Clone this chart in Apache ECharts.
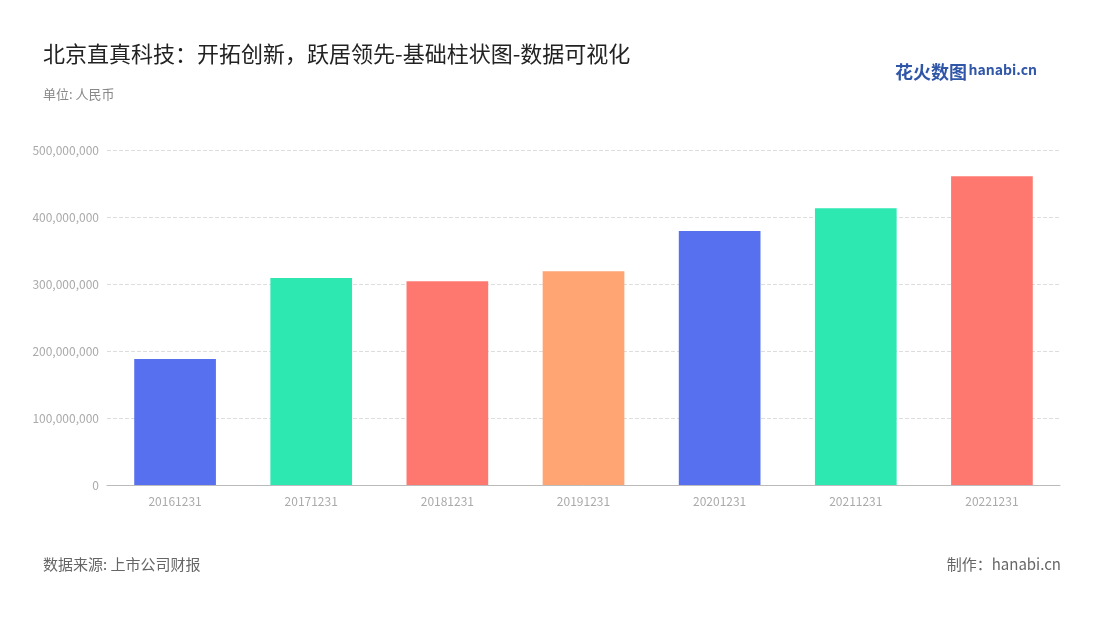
<!DOCTYPE html>
<html><head><meta charset="utf-8">
<script src="https://cdn.jsdelivr.net/npm/echarts@6/dist/echarts.min.js"></script>
<style>body{margin:0}#c{width:1100px;height:620px}</style></head>
<body><div id="c"></div>
<script>
const categories=['20161231','20171231','20181231','20191231','20201231','20211231','20221231'];
const values=[188000000,309000000,304000000,319000000,379000000,413000000,461000000];
const colors=['#5670f0','#2ee8b1','#ff7870','#ffa473','#5670f0','#2ee8b1','#ff7870'];
const chart=echarts.init(document.getElementById('c'));
const F='"Noto Sans CJK SC","Noto Sans",sans-serif';
chart.setOption({
  textStyle:{fontFamily:F},
  title:[{text:'北京直真科技：开拓创新，跃居领先-基础柱状图-数据可视化',left:38,top:38,textStyle:{fontSize:22,fontWeight:'normal',color:'#222',fontFamily:F}},
    {text:'单位: 人民币',left:38,top:83,textStyle:{fontSize:13,fontWeight:'normal',color:'#888',fontFamily:F}},
    {text:'数据来源: 上市公司财报',left:38,top:552,textStyle:{fontSize:15,fontWeight:'normal',color:'#666',fontFamily:F}},
    {text:'制作：hanabi.cn',right:34,top:552,textStyle:{fontSize:15,fontWeight:'normal',color:'#666',fontFamily:F}},
    {text:'花火数图',right:128,top:58,textStyle:{fontSize:18,fontWeight:'bold',color:'#3056a8',fontFamily:F}},
    {text:'hanabi.cn',right:58,top:58,textStyle:{fontSize:14,fontWeight:'bold',color:'#3056a8',fontFamily:F}}],
  grid:{left:107,right:40,top:150,bottom:135},
  xAxis:{type:'category',data:categories,axisTick:{show:false},axisLine:{lineStyle:{color:'#bbb'}},axisLabel:{color:'#aaa',fontSize:12,margin:10}},
  yAxis:{type:'value',min:0,max:500000000,interval:100000000,axisLabel:{color:'#aaa',fontSize:12,formatter:v=>v.toLocaleString('en-US')},splitLine:{lineStyle:{type:'dashed',color:'#ddd'}}},
  series:[{type:'bar',barWidth:'60%',data:values.map((v,i)=>({value:v,itemStyle:{color:colors[i]}}))}]
});
</script></body></html>
